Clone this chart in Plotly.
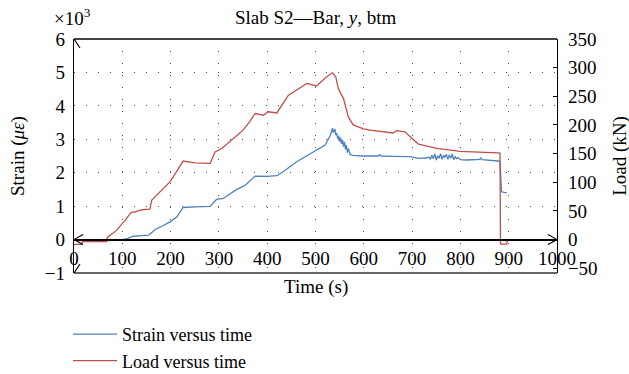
import plotly.graph_objects as go

# ---------------- data ----------------
strain_time = [0, 50, 100, 110, 123, 140, 154, 160, 168, 185, 199, 213, 226, 250, 282, 295, 309,
               337, 354, 375, 400, 420, 433, 461, 482, 502, 520, 531, 535, 537, 539, 540, 542,
               544, 546, 548, 550, 552, 554, 556, 558, 560, 562, 564, 566, 568, 572, 578, 600,
               630, 633, 636, 660, 696, 713, 730, 735, 738, 741, 744, 747, 750, 753, 756, 759,
               762, 765, 768, 771, 774, 777, 780, 783, 786, 789, 792, 795, 800, 813, 840, 842,
               845, 878, 882, 885, 896]
strain_k = [0.0, 0.0, 0.0, 0.03, 0.10, 0.12, 0.13, 0.20, 0.30, 0.42, 0.53, 0.68, 0.96, 0.98, 0.99,
            1.20, 1.23, 1.50, 1.62, 1.90, 1.89, 1.91, 2.03, 2.33, 2.50, 2.66, 2.83, 3.13, 3.33,
            3.20, 3.28, 3.31, 3.12, 3.18, 3.02, 3.10, 2.93, 3.05, 2.86, 2.98, 2.78, 2.92, 2.70,
            2.82, 2.60, 2.72, 2.54, 2.52, 2.50, 2.50, 2.54, 2.50, 2.49, 2.48, 2.43, 2.44, 2.47,
            2.40, 2.52, 2.42, 2.56, 2.38, 2.50, 2.44, 2.57, 2.40, 2.52, 2.46, 2.55, 2.40, 2.53,
            2.43, 2.56, 2.39, 2.48, 2.42, 2.45, 2.39, 2.38, 2.40, 2.44, 2.39, 2.35, 2.34, 1.43,
            1.40]

load_time = [0, 15, 18, 40, 68, 69, 88, 105, 119, 126, 135, 145, 157, 161, 180, 199, 215, 226,
             250, 282, 292, 306, 330, 350, 365, 375, 392, 402, 420, 444, 461, 482, 502, 523,
             535, 542, 547, 558, 568, 578, 599, 613, 661, 668, 685, 696, 713, 751, 799, 878,
             882, 883, 896, 897]
load_kn = [-8.5, -8.5, -3.5, -3.5, -3.5, 3.7, 16, 33, 48, 48, 51, 52.5, 53, 69, 85, 101, 122,
           137, 134, 133, 153, 159, 176.5, 191, 207, 220, 217, 223, 221, 252, 261, 272.6, 268,
           284, 291, 284, 264, 246, 214, 200, 193, 191, 186, 190, 188, 179, 166.6, 159, 154,
           151.4, 151, -8, -8, -1]

x_ticks = [0, 100, 200, 300, 400, 500, 600, 700, 800, 900, 1000]
left_ticks = [-1, 0, 1, 2, 3, 4, 5, 6]
right_ticks = [-50, 0, 50, 100, 150, 200, 250, 300, 350]

BLUE = "#4F81BD"
RED = "#C0504D"
FONT = "Liberation Serif"

fig = go.Figure()
fig.add_trace(go.Scatter(x=strain_time, y=strain_k, mode="lines", name="Strain versus time",
                         line=dict(color=BLUE, width=1.3), yaxis="y"))
fig.add_trace(go.Scatter(x=load_time, y=load_kn, mode="lines", name="Load versus time",
                         line=dict(color=RED, width=1.3), yaxis="y2"))

grid = dict(showgrid=True, gridcolor="#555555", gridwidth=1.2, griddash="1px,11px")

fig.update_layout(
    width=629, height=374,
    margin=dict(l=74, r=72, t=39, b=101, autoexpand=False),
    paper_bgcolor="white", plot_bgcolor="white",
    font=dict(family=FONT, size=18, color="black"),
    showlegend=True,
    legend=dict(x=68 / 629, y=1 - 316 / 374, xref="container", yref="container",
                xanchor="left", yanchor="top", itemwidth=44,
                font=dict(family=FONT, size=18, color="black"),
                bgcolor="rgba(0,0,0,0)", tracegroupgap=0),
    xaxis=dict(range=[0, 1000], tickvals=x_ticks, anchor="free", position=1/7,
               showline=True, linecolor="black", linewidth=1.5, ticks="",
               zeroline=False, tickfont=dict(size=19), ticklabelstandoff=2, **grid),
    yaxis=dict(range=[-1, 6], tickvals=[1, 2, 3, 4, 5], showline=True, linecolor="black",
               linewidth=1.2, zeroline=False, showticklabels=False, ticks="", **grid),
    yaxis3=dict(range=[-1, 6], tickvals=left_ticks, overlaying="y", side="left", anchor="x",
                showgrid=False, zeroline=False, showline=False, ticks="",
                tickfont=dict(size=19), ticklabelstandoff=8),
    yaxis2=dict(range=[-58.33, 350], tickvals=right_ticks, overlaying="y", side="right",
                anchor="x", showgrid=False, zeroline=False, showline=True, linecolor="black",
                linewidth=1.2, ticks="inside", ticklen=4, tickcolor="black",
                tickfont=dict(size=19), ticklabelstandoff=6),
)
# invisible trace so that the left tick-label axis is drawn
fig.add_trace(go.Scatter(x=[0], y=[0], yaxis="y3", mode="markers", showlegend=False,
                         marker=dict(opacity=0), hoverinfo="skip"))

shapes = [
    dict(type="line", xref="paper", yref="paper", x0=0, x1=1, y0=1, y1=1,
         line=dict(color="#444444", width=2)),
    dict(type="line", xref="paper", yref="paper", x0=0, x1=1, y0=0, y1=0,
         line=dict(color="#333333", width=1.6)),
]
arrow_line = dict(color="black", width=1.2)
for xa, ya, path in [(0, 6, "M -6,-9 L 0,0 L 6,-9"),
                     (0, -1, "M -6,9 L 0,0 L 6,9"),
                     (0, 0, "M 9,5 L 0,0 L 9,-5"),
                     (1000, 0, "M -9,5 L 0,0 L -9,-5")]:
    shapes.append(dict(type="path", xref="x", yref="y", xsizemode="pixel", ysizemode="pixel",
                       xanchor=xa, yanchor=ya, path=path, line=arrow_line))
fig.update_layout(shapes=shapes)

ann = [
    dict(text="Slab S2\u2014Bar, <i>y</i>, btm", x=0.5, y=1.094, xref="paper", yref="paper",
         showarrow=False, font=dict(size=19), xanchor="center", yanchor="middle"),
    dict(text="\u00d710<sup>3</sup>", x=-0.045, y=1.094, xref="paper", yref="paper",
         showarrow=False, font=dict(size=19), xanchor="left", yanchor="middle"),
    dict(text="Strain (<i>\u03bc\u03b5</i>)", x=-0.116, y=0.5, xref="paper", yref="paper",
         showarrow=False, textangle=-90, font=dict(size=19), xanchor="center", yanchor="middle"),
    dict(text="Load (kN)", x=1.13, y=0.5, xref="paper", yref="paper",
         showarrow=False, textangle=-90, font=dict(size=19), xanchor="center", yanchor="middle"),
    dict(text="Time (s)", x=0.5, y=-0.06, xref="paper", yref="paper",
         showarrow=False, font=dict(size=19), xanchor="center", yanchor="middle"),
]
fig.update_layout(annotations=ann)

fig.write_html("out.html")
